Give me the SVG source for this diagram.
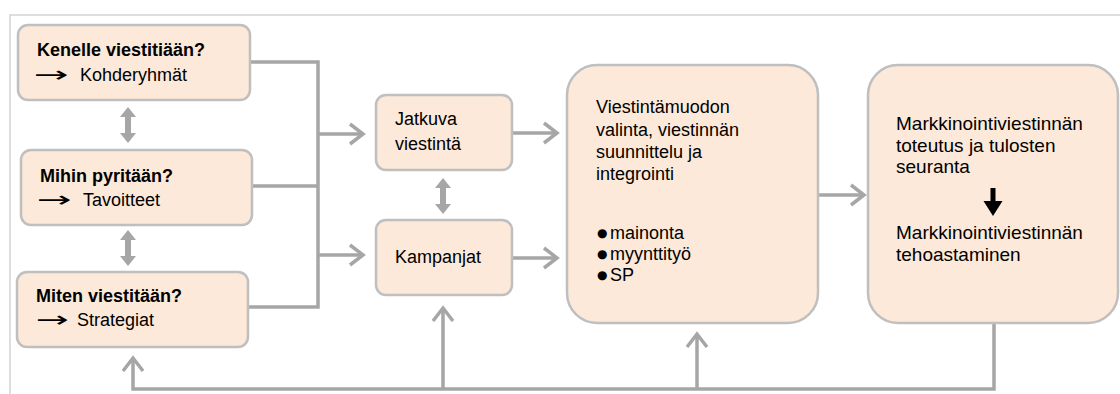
<svg xmlns="http://www.w3.org/2000/svg" width="1120" height="394" viewBox="0 0 1120 394">
<style>
.box{fill:#fde9d9;stroke:#bfbfbf;stroke-width:2.5}
.t{font-family:"Liberation Sans",Arial,sans-serif;font-size:18px;fill:#000}
.r{font-size:19px}
.b{font-weight:bold}
.ar{font-family:"DejaVu Sans",sans-serif;font-size:22px;fill:#000}
.bul{font-family:"DejaVu Sans",sans-serif;font-size:12px;fill:#000}
.con{fill:none;stroke:#a6a6a6;stroke-width:3.5}
.dbl{fill:#a6a6a6}
</style>
<defs>
<marker id="arr" markerUnits="userSpaceOnUse" markerWidth="30" markerHeight="30" viewBox="-20 -15 30 30" refX="0" refY="0" orient="auto" overflow="visible">
<path d="M-13,-10 L0,0 L-13,10" fill="none" stroke="#a6a6a6" stroke-width="3.5"/>
</marker>
<polygon id="dbl" points="0,0 8,10 3,10 3,26 8,26 0,36 -8,26 -3,26 -3,10 -8,10"/>
</defs>
<g id="frame" fill="none" stroke="#d3d3d3" stroke-width="1.5">
<path d="M10,394 V15 H1120"/>
</g>
<g id="connectors">
<path class="con" d="M250,62 H318 V307 H248"/>
<path class="con" d="M252,186 H318"/>
<path class="con" d="M318,134 H363" marker-end="url(#arr)"/>
<path class="con" d="M318,255 H363" marker-end="url(#arr)"/>
<path class="con" d="M512,133 H557" marker-end="url(#arr)"/>
<path class="con" d="M512,258 H557" marker-end="url(#arr)"/>
<path class="con" d="M818,195 H864" marker-end="url(#arr)"/>
<path class="con" d="M994,323 V389 H133 V358" marker-end="url(#arr)"/>
<path class="con" d="M443,389 V308" marker-end="url(#arr)"/>
<path class="con" d="M697,389 V334" marker-end="url(#arr)"/>
<use href="#dbl" class="dbl" x="128" y="107"/>
<use href="#dbl" class="dbl" x="128" y="230"/>
<use href="#dbl" class="dbl" x="443" y="178"/>
</g>
<g id="n-kenelle">
<rect class="box" x="18" y="25" width="232" height="75" rx="10"/>
<text class="t b" x="37" y="56">Kenelle viestitiään?</text>
<text class="ar" transform="translate(34,82) scale(1.9,1)">→</text>
<text class="t" x="80" y="81">Kohderyhmät</text>
</g>
<g id="n-mihin">
<rect class="box" x="21" y="150" width="231" height="75" rx="10"/>
<text class="t b" x="40" y="182">Mihin pyritään?</text>
<text class="ar" transform="translate(37,207) scale(1.9,1)">→</text>
<text class="t" x="83" y="206">Tavoitteet</text>
</g>
<g id="n-miten">
<rect class="box" x="17" y="272" width="231" height="75" rx="10"/>
<text class="t b" x="36" y="302">Miten viestitään?</text>
<text class="ar" transform="translate(36,327) scale(1.8,1)">→</text>
<text class="t" x="77" y="326">Strategiat</text>
</g>
<g id="n-jatkuva">
<rect class="box" x="376" y="95" width="136" height="75" rx="10"/>
<text class="t" x="395" y="125">Jatkuva</text>
<text class="t" x="395" y="150">viestintä</text>
</g>
<g id="n-kampanjat">
<rect class="box" x="376" y="220" width="136" height="75" rx="10"/>
<text class="t" x="395" y="263">Kampanjat</text>
</g>
<g id="n-valinta">
<rect class="box" x="567" y="65" width="251" height="258" rx="30"/>
<text class="t" x="596" y="113">Viestintämuodon</text>
<text class="t" x="596" y="136">valinta, viestinnän</text>
<text class="t" x="596" y="158">suunnittelu ja</text>
<text class="t" x="596" y="180">integrointi</text>
<text class="bul" x="597" y="237">●</text>
<text class="t" x="610" y="239">mainonta</text>
<text class="bul" x="597" y="258">●</text>
<text class="t" x="610" y="260">myynttityö</text>
<text class="bul" x="597" y="279">●</text>
<text class="t" x="610" y="281">SP</text>
</g>
<g id="n-toteutus">
<rect class="box" x="868" y="65" width="250" height="258" rx="30"/>
<text class="t r" x="896" y="130">Markkinointiviestinnän</text>
<text class="t r" x="896" y="152">toteutus ja tulosten</text>
<text class="t r" x="896" y="173">seuranta</text>
<path d="M990.5,188 h5 v13 h7 l-9.5,15 l-9.5,-15 h7 z" fill="#000"/>
<text class="t r" x="896" y="239">Markkinointiviestinnän</text>
<text class="t r" x="896" y="261">tehoastaminen</text>
</g>
</svg>
